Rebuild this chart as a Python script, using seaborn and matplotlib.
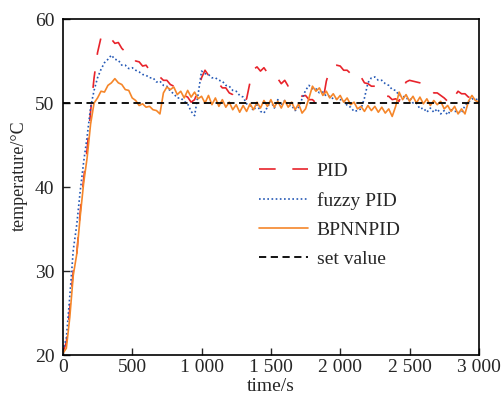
import numpy as np
import pandas as pd
import matplotlib
matplotlib.use("Agg")
import matplotlib.pyplot as plt
import seaborn as sns
from matplotlib.ticker import FuncFormatter

# time axis, one sample every 25 s
time_s = np.arange(0, 3001, 25)

# PID response
pid = [
    20.3, 21.5, 25.5, 30.0, 32.0, 37.0, 41.0, 44.5, 49.0, 53.0,
    56.0, 57.8, 57.9, 57.3, 57.6, 57.1, 57.2, 56.5, 56.1, 55.6,
    55.6, 55.0, 54.9, 54.4, 54.5, 53.9, 53.9, 53.4, 53.1, 52.7,
    52.7, 52.2, 52.0, 51.5, 51.5, 50.9, 50.7, 50.1, 50.4, 51.5,
    53.0, 53.9, 53.3, 53.0, 52.4, 52.3, 51.8, 51.8, 51.2, 51.0,
    50.5, 50.4, 50.1, 50.5, 52.5, 54.0, 54.3, 53.8, 54.2, 53.6,
    53.5, 52.9, 52.9, 52.3, 52.7, 52.0, 51.9, 51.4, 51.3, 50.8,
    50.9, 50.4, 50.4, 50.0, 49.9, 50.2, 52.6, 54.0, 54.4, 54.5,
    54.4, 53.9, 53.9, 53.5, 53.8, 53.2, 53.1, 52.4, 52.3, 52.0,
    52.0, 51.5, 51.3, 50.8, 50.8, 50.4, 50.5, 50.2, 51.6, 52.5,
    52.7, 52.6, 52.5, 52.4, 52.3, 51.8, 51.7, 51.2, 51.2, 50.9,
    50.6, 50.2, 49.9, 50.8, 51.4, 51.1, 51.1, 50.7, 50.7, 50.3,
    50.6,
]

# fuzzy PID response
fuzzy_pid = [
    20.5, 22.0, 27.0, 32.5, 35.5, 39.5, 43.0, 46.0, 49.5, 51.5,
    53.0, 54.0, 54.8, 55.2, 55.7, 55.2, 55.1, 54.5, 54.5, 54.1,
    54.2, 53.9, 53.7, 53.4, 53.3, 53.0, 53.0, 52.5, 52.6, 52.1,
    52.0, 51.4, 51.1, 50.6, 50.6, 50.2, 49.9, 49.0, 48.5, 51.0,
    53.8, 53.5, 53.4, 53.0, 53.0, 52.7, 52.6, 52.1, 52.0, 51.5,
    51.4, 50.9, 50.7, 49.9, 49.7, 49.1, 49.8, 49.0, 48.8, 49.5,
    50.2, 49.4, 50.4, 49.7, 50.3, 49.7, 49.7, 49.1, 49.5, 50.5,
    51.5, 52.1, 51.7, 51.7, 51.2, 51.3, 50.8, 50.8, 50.5, 50.5,
    50.4, 50.3, 49.7, 49.5, 49.0, 49.1, 49.3, 50.6, 52.4, 53.0,
    53.1, 52.7, 52.7, 52.3, 52.1, 51.6, 51.5, 50.9, 50.9, 50.5,
    50.6, 50.0, 50.0, 49.3, 49.4, 48.9, 49.4, 48.9, 49.3, 48.7,
    49.1, 48.6, 49.2, 49.0, 49.0, 48.8, 49.7, 50.1, 50.5, 50.4,
    50.5,
]

# BPNN PID response
bpnn_pid = [
    20.2, 20.8, 24.5, 29.5, 32.0, 36.5, 40.5, 43.5, 47.5, 50.0,
    50.6, 51.4, 51.3, 52.1, 52.4, 52.9, 52.4, 52.2, 51.6, 51.5,
    50.6, 50.3, 49.7, 49.9, 49.5, 49.6, 49.2, 49.1, 48.7, 51.2,
    51.9, 51.6, 51.9, 51.0, 51.4, 50.6, 51.5, 50.7, 51.3, 50.5,
    50.8, 50.0, 50.9, 49.8, 50.6, 49.6, 50.4, 49.5, 50.1, 49.2,
    49.8, 48.9, 49.7, 49.0, 49.9, 49.2, 50.1, 49.4, 50.3, 49.6,
    50.4, 49.5, 50.2, 49.4, 50.3, 49.5, 50.1, 49.2, 49.9, 48.8,
    49.3, 50.6, 52.0, 51.4, 51.8, 50.9, 51.4, 50.6, 51.1, 50.4,
    50.9, 50.1, 50.6, 49.8, 50.1, 49.3, 49.6, 49.0, 49.7, 49.1,
    49.6, 48.9, 49.5, 48.8, 49.3, 48.4, 49.6, 51.3, 50.4, 51.0,
    50.2, 50.8, 50.0, 50.7, 49.9, 50.5, 49.7, 50.3, 49.8, 50.2,
    49.3, 49.7, 49.0, 49.6, 48.7, 49.3, 48.7, 50.2, 50.9, 50.3,
    50.1,
]

set_value = 50

sns.set_style("ticks")
plt.rcParams['font.family'] = ['Liberation Serif', 'DejaVu Serif']
plt.rcParams['font.size'] = 14

fig = plt.figure(figsize=(5.03, 4.00), dpi=100)
ax = fig.add_axes([0.125, 0.1125, 0.827, 0.84])

sns.lineplot(x=time_s, y=pid, ax=ax, color='#e8232b', lw=1.2,
             linestyle=(0, (10, 10)), label='PID')
sns.lineplot(x=time_s, y=fuzzy_pid, ax=ax, color='#2458b5', lw=1.2,
             linestyle=(0, (1, 1.5)), label='fuzzy PID')
sns.lineplot(x=time_s, y=bpnn_pid, ax=ax, color='#f5862a', lw=1.2,
             label='BPNNPID')
ax.axhline(set_value, color='black', lw=1.3, linestyle=(0, (4, 2.5)),
           label='set value')

ax.set_xlim(0, 3000)
ax.set_ylim(20, 60)
ax.set_xticks([0, 500, 1000, 1500, 2000, 2500, 3000])
ax.set_yticks([20, 30, 40, 50, 60])
ax.xaxis.set_major_formatter(FuncFormatter(lambda v, p: f'{int(v):,}'.replace(',', ' ')))
ax.tick_params(direction='in', length=5, width=1, labelsize=14)
ax.tick_params(axis='x', pad=3)
ax.tick_params(axis='y', pad=6)
for s in ax.spines.values():
    s.set_linewidth(1.2)
    s.set_color('black')

ax.set_xlabel('time/s', fontsize=14, labelpad=1)
ax.set_ylabel('temperature/°C', fontsize=13)
ax.yaxis.set_label_coords(-0.084, 0.533)

ax.legend(loc='upper left', bbox_to_anchor=(0.43, 0.625), frameon=False,
          fontsize=14, handlelength=2.5, handletextpad=0.45, labelspacing=0.6)

fig.savefig('out.png', dpi=100)
